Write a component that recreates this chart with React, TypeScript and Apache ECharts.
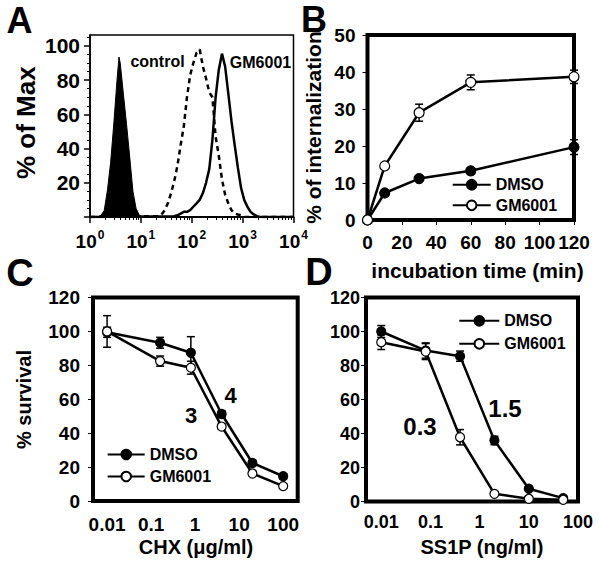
import { useEffect, useRef } from 'react';
import * as echarts from 'echarts';

const FONT = '"Liberation Sans", Arial, Helvetica, sans-serif';

// ---------- Panel A: flow cytometry histograms (x = log10 fluorescence) ----------
const aIsoLog = [0.156, 0.219, 0.281, 0.344, 0.406, 0.469, 0.531, 0.57, 0.594, 0.656, 0.719, 0.781, 0.844, 0.906, 0.969, 1.031];
const aIsoPct = [0, 1, 4, 16, 32, 55, 80, 93.5, 90, 72, 54, 35, 15, 5, 1, 0];
const aCtrlLog = [1.344, 1.406, 1.469, 1.531, 1.594, 1.656, 1.719, 1.781, 1.844, 1.906, 1.969, 2.031, 2.094, 2.156, 2.219, 2.281, 2.344, 2.406, 2.469, 2.531, 2.594, 2.656, 2.719, 2.781, 2.844, 2.906, 2.969, 3.031];
const aCtrlPct = [0.5, 1.5, 4, 8, 14, 21, 30, 42, 53, 70, 83, 90, 96, 98, 88, 81, 73, 70, 47, 36, 22, 13, 8, 4, 2, 1.5, 1, 0];
const aGMLog = [1.656, 1.719, 1.781, 1.844, 1.906, 1.969, 2.031, 2.094, 2.156, 2.219, 2.281, 2.344, 2.406, 2.469, 2.531, 2.594, 2.656, 2.719, 2.781, 2.844, 2.906, 2.969, 3.031, 3.094, 3.156, 3.219, 3.281, 3.344];
const aGMPct = [0.5, 1, 2, 3, 3, 4, 6, 8, 10, 14, 20, 28, 45, 70, 86, 95.5, 88, 72, 56, 42, 29, 17, 10, 6, 3, 1.5, 0.5, 0];
const aXTickExp = [0, 1, 2, 3, 4];
const aYTickLabels = [20, 40, 60, 80, 100];
const aYTicks = [0, 20, 40, 60, 80, 100];

// ---------- Panel B: internalization time course ----------
const bTime = [0, 10, 30, 60, 120];
const bDMSO = [0, 7.3, 11.2, 13.3, 19.7];
const bDMSOErr = [0, 0, 0, 0, 2];
const bGM = [0, 14.6, 29, 37.2, 38.7];
const bGMErr = [0, 0, 2.3, 2, 1.8];

// ---------- Panel C: CHX survival ----------
const cDose = [0.01, 0.16, 0.8, 4, 20, 100];
const cDMSO = [99.5, 93.3, 87.4, 51.3, 22.4, 14.6];
const cDMSOErr = [3, 3.2, 9.5, 2, 1.5, 1.5];
const cGM = [100, 82.5, 78.6, 43.9, 16.2, 8.8];
const cGMErr = [9.3, 3, 3.8, 1.5, 1, 1];

// ---------- Panel D: SS1P survival ----------
const dDose = [0.01, 0.08, 0.4, 2, 10, 50];
const dDMSO = [100, 88.8, 85.5, 35.9, 7.5, 2];
const dDMSOErr = [3.5, 4.5, 3, 2.5, 1, 0.5];
const dGM = [93.7, 88.2, 37.8, 4.5, 1.6, 1];
const dGMErr = [4.3, 4.7, 4.5, 1, 0.5, 0.5];

const doseTickExp = [-2, -1, 0, 1, 2];
const doseTickLabels = ['0.01', '0.1', '1', '10', '100'];

const aMinorTicks: number[] = [];
for (let k = 0; k < 4; k++) for (let m = 2; m <= 9; m++) aMinorTicks.push(k + Math.log10(m));
const aYMinor: number[] = [];
for (let v = 5; v <= 105; v += 5) if (v % 20 !== 0) aYMinor.push(v);

const bold = (size: number) => ({ fontSize: size, fontWeight: 'bold' as const, fontFamily: FONT, color: '#000' });

function histo(xs: number[], ys: number[]) {
  return [[0, 0], ...xs.map((x, i) => [x, ys[i]]), [4, 0]];
}

function errSeries(xs: number[], ys: number[], errs: number[], axis: number, tx: (v: number) => number) {
  const data: number[][] = [];
  xs.forEach((x, i) => {
    if (errs[i] > 0) data.push([tx(x), ys[i] - errs[i], ys[i] + errs[i]]);
  });
  return {
    type: 'custom',
    xAxisIndex: axis,
    yAxisIndex: axis,
    z: 2,
    silent: true,
    clip: false,
    data,
    encode: { x: 0, y: [1, 2] },
    renderItem: (_p: any, api: any) => {
      const x = api.value(0);
      const top = api.coord([x, api.value(2)]);
      const bot = api.coord([x, api.value(1)]);
      const w = 4;
      const st = { stroke: '#000', lineWidth: 1.5 };
      return {
        type: 'group',
        children: [
          { type: 'line', shape: { x1: top[0], y1: top[1], x2: bot[0], y2: bot[1] }, style: st },
          { type: 'line', shape: { x1: top[0] - w, y1: top[1], x2: top[0] + w, y2: top[1] }, style: st },
          { type: 'line', shape: { x1: bot[0] - w, y1: bot[1], x2: bot[0] + w, y2: bot[1] }, style: st },
        ],
      };
    },
  };
}

function lineSeries(name: string, xs: number[], ys: number[], axis: number, open: boolean, size: number, tx: (v: number) => number) {
  return {
    name,
    type: 'line',
    xAxisIndex: axis,
    yAxisIndex: axis,
    z: 3,
    clip: false,
    data: xs.map((x, i) => [tx(x), ys[i]]),
    symbol: 'circle',
    symbolSize: size,
    lineStyle: { color: '#000', width: 2.5 },
    itemStyle: { color: open ? '#fff' : '#000', borderColor: '#000', borderWidth: 1.2 },
  };
}

const ident = (v: number) => v;
const lg = (v: number) => Math.log10(v);

function legendAt(left: number, top: number, gap: number, width: number) {
  return {
    data: ['DMSO', 'GM6001'],
    orient: 'vertical',
    left,
    top,
    padding: 0,
    itemGap: gap,
    itemWidth: width,
    itemHeight: 12,
    selectedMode: false,
    textStyle: bold(16),
  };
}

function txt(text: string, x: number, y: number, size: number, rot = 0) {
  return {
    type: 'text',
    x,
    y,
    rotation: rot,
    style: { text, fontSize: size, fontWeight: 'bold', fontFamily: FONT, fill: '#000', align: 'center', verticalAlign: 'middle' },
  };
}

export default function App() {
  const ref = useRef<HTMLDivElement>(null);
  useEffect(() => {
    if (!ref.current) return;
    const chart = echarts.init(ref.current, null, { renderer: 'svg' });
    const noSplit = { show: false };
    const hiddenLine = { show: false, onZero: false };
    const option: any = {
      animation: false,
      backgroundColor: '#fff',
      textStyle: { fontFamily: FONT },
      grid: [
        { left: 90, top: 35, width: 203.5, height: 182, show: true, borderColor: '#000', borderWidth: 1.5, containLabel: false },
        { left: 367.5, top: 35, width: 206.5, height: 185, show: true, borderColor: '#000', borderWidth: 4 },
        { left: 93, top: 297.5, width: 204.7, height: 203.5, show: true, borderColor: '#000', borderWidth: 4 },
        { left: 366, top: 297.5, width: 212, height: 204, show: true, borderColor: '#000', borderWidth: 4 },
      ],
      xAxis: [
        {
          gridIndex: 0, type: 'value', min: 0, max: 4, interval: 1,
          axisLine: { show: true, onZero: false, lineStyle: { color: '#000', width: 2 } },
          axisTick: { show: true, length: 6, lineStyle: { color: '#000', width: 1.5 }, customValues: aXTickExp },
          axisLabel: {
            margin: 12,
            customValues: aXTickExp,
            formatter: (v: number) => `{b|10}{s|${v}}`,
            rich: {
              b: { ...bold(19), lineHeight: 22, verticalAlign: 'bottom' },
              s: { ...bold(12), lineHeight: 22, verticalAlign: 'top', padding: [0, 0, 0, 1] },
            },
          },
          splitLine: noSplit,
        },
        {
          gridIndex: 0, type: 'value', min: 0, max: 4, position: 'bottom',
          axisLine: hiddenLine,
          axisTick: { show: true, length: 3, customValues: aMinorTicks, lineStyle: { color: '#000', width: 1 } },
          axisLabel: { show: false },
          splitLine: noSplit,
        },
        {
          gridIndex: 1, type: 'value', min: 0, max: 120, interval: 20,
          axisLine: hiddenLine,
          axisTick: { show: true, length: 5, lineStyle: { color: '#000', width: 1 } },
          axisLabel: { ...bold(19), margin: 13 },
          splitLine: noSplit,
        },
        {
          gridIndex: 2, type: 'value', min: -2.32, max: 2.33,
          axisLine: hiddenLine,
          axisTick: { show: false },
          axisLabel: { ...bold(19), margin: 14, customValues: doseTickExp, formatter: (v: number) => doseTickLabels[doseTickExp.indexOf(Math.round(v))] },
          splitLine: noSplit,
        },
        {
          gridIndex: 3, type: 'value', min: -2.31, max: 2.0,
          axisLine: hiddenLine,
          axisTick: { show: false },
          axisLabel: { ...bold(18), margin: 11, customValues: doseTickExp, formatter: (v: number) => doseTickLabels[doseTickExp.indexOf(Math.round(v))] },
          splitLine: noSplit,
        },
      ],
      yAxis: [
        {
          gridIndex: 0, type: 'value', min: 0, max: 106.4,
          axisLine: { show: true, onZero: false, lineStyle: { color: '#000', width: 1.5 } },
          axisTick: { show: true, length: 6, customValues: aYTicks, lineStyle: { color: '#000', width: 1.5 } },
          axisLabel: { ...bold(21), margin: 10, customValues: aYTickLabels },
          splitLine: noSplit,
        },
        {
          gridIndex: 0, type: 'value', min: 0, max: 106.4, position: 'left',
          axisLine: hiddenLine,
          axisTick: { show: true, length: 3, customValues: aYMinor, lineStyle: { color: '#000', width: 1 } },
          axisLabel: { show: false },
          splitLine: noSplit,
        },
        {
          gridIndex: 1, type: 'value', min: 0, max: 50, interval: 10,
          axisLine: hiddenLine,
          axisTick: { show: true, length: 5, lineStyle: { color: '#000', width: 1 } },
          axisLabel: { ...bold(19), margin: 12 },
          splitLine: noSplit,
        },
        {
          gridIndex: 2, type: 'value', min: 0, max: 120, interval: 20,
          axisLine: hiddenLine,
          axisTick: { show: true, length: 5, lineStyle: { color: '#000', width: 1 } },
          axisLabel: { ...bold(19), margin: 13 },
          splitLine: noSplit,
        },
        {
          gridIndex: 3, type: 'value', min: 0, max: 120, interval: 20,
          axisLine: hiddenLine,
          axisTick: { show: true, length: 5, lineStyle: { color: '#000', width: 1 } },
          axisLabel: { ...bold(18), margin: 6 },
          splitLine: noSplit,
        },
      ],
      legend: [
        legendAt(451.7, 176.7, 4.6, 38),
        legendAt(106.7, 446.5, 6, 37),
        legendAt(458.3, 312.8, 7, 40),
      ],
      series: [
        // Panel A
        {
          name: 'isotype', type: 'line', xAxisIndex: 0, yAxisIndex: 0, symbol: 'none', z: 2,
          data: histo(aIsoLog, aIsoPct),
          lineStyle: { color: '#000', width: 1 },
          areaStyle: { color: '#000', opacity: 1 },
        },
        {
          name: 'control', type: 'line', xAxisIndex: 0, yAxisIndex: 0, symbol: 'none', z: 3,
          data: histo(aCtrlLog, aCtrlPct),
          lineStyle: { color: '#000', width: 2.5, type: [5, 4] },
        },
        {
          name: 'GM6001 histogram', type: 'line', xAxisIndex: 0, yAxisIndex: 0, symbol: 'none', z: 3,
          data: histo(aGMLog, aGMPct),
          lineStyle: { color: '#000', width: 2.5 },
        },
        // Panel B
        errSeries(bTime, bDMSO, bDMSOErr, 2, ident),
        errSeries(bTime, bGM, bGMErr, 2, ident),
        lineSeries('DMSO', bTime, bDMSO, 2, false, 10, ident),
        lineSeries('GM6001', bTime, bGM, 2, true, 10, ident),
        // Panel C
        errSeries(cDose, cDMSO, cDMSOErr, 3, lg),
        errSeries(cDose, cGM, cGMErr, 3, lg),
        lineSeries('DMSO', cDose, cDMSO, 3, false, 9, lg),
        lineSeries('GM6001', cDose, cGM, 3, true, 9, lg),
        // Panel D
        errSeries(dDose, dDMSO, dDMSOErr, 4, lg),
        errSeries(dDose, dGM, dGMErr, 4, lg),
        lineSeries('DMSO', dDose, dDMSO, 4, false, 9, lg),
        lineSeries('GM6001', dDose, dGM, 4, true, 9, lg),
      ],
      graphic: [
        txt('A', 19.5, 20, 36),
        txt('B', 314, 19, 36),
        txt('C', 20, 272.5, 38),
        txt('D', 319, 272, 38),
        txt('% of Max', 26, 122.7, 26, Math.PI / 2),
        txt('% of internalization', 313, 127.5, 21, Math.PI / 2),
        txt('% survival', 24, 399.5, 20, Math.PI / 2),
        txt('incubation time (min)', 477.5, 270, 21),
        txt('CHX (\u03bcg/ml)', 196, 547, 20),
        txt('SS1P (ng/ml)', 482, 547, 20),
        txt('control', 157.5, 61, 16),
        txt('GM6001', 260.5, 62, 16),
        txt('3', 191, 415, 22),
        txt('4', 230.5, 395.5, 22),
        txt('0.3', 420, 426.5, 24),
        txt('1.5', 505, 408.5, 24),
      ],
    };
    chart.setOption(option);
    return () => chart.dispose();
  }, []);
  return <div ref={ref} style={{ position: 'absolute', left: 0, top: 0, width: 601, height: 572, background: '#fff' }} />;
}
